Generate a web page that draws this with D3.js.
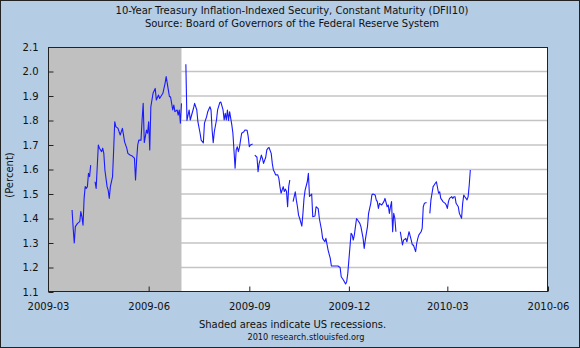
<!DOCTYPE html>
<html>
<head>
<meta charset="utf-8">
<script src="https://cdn.jsdelivr.net/npm/d3@7"></script>
<style>
  body { margin: 0; background: #fff; }
  svg { display: block; font-family: "DejaVu Sans", Verdana, sans-serif; }
</style>
</head>
<body>
<div class="container"></div>
<script>
// chart text
const titleLines = [
  "10-Year Treasury Inflation-Indexed Security, Constant Maturity (DFII10)",
  "Source: Board of Governors of the Federal Reserve System"
];
const footerLines = [
  "Shaded areas indicate US recessions.",
  "2010 research.stlouisfed.org"
];
const yLabel = "(Percent)";

// axes
const yTicks = [1.1, 1.2, 1.3, 1.4, 1.5, 1.6, 1.7, 1.8, 1.9, 2.0, 2.1];
const xTicks = ["2009-03-01", "2009-06-01", "2009-09-01", "2009-12-01", "2010-03-01", "2010-06-01"];
const xDomain = ["2009-03-01", "2010-06-01"];

// NBER recession (clipped to the chart window)
const recession = ["2009-03-01", "2009-07-01"];

// daily DFII10, percent (null = no observation, breaks the line)
const dfii10 = [
  ["2009-03-23",1.435],["2009-03-24",1.36],["2009-03-25",1.30],["2009-03-26",1.367],["2009-03-28",1.38],
  ["2009-03-30",1.387],["2009-03-31",1.428],
  ["2009-04-01",1.407],["2009-04-02",1.373],["2009-04-03",1.482],["2009-04-04",1.53],["2009-04-05",1.523],
  ["2009-04-06",1.53],["2009-04-07",1.584],["2009-04-08",1.571],["2009-04-09",1.618],["2009-04-10",null],
  ["2009-04-13",1.55],["2009-04-14",1.523],["2009-04-15",1.611],["2009-04-16",1.70],["2009-04-17",1.687],
  ["2009-04-19",1.673],["2009-04-20",1.687],["2009-04-21",1.666],["2009-04-22",1.598],["2009-04-24",1.53],
  ["2009-04-25",1.516],["2009-04-26",1.482],["2009-04-27",1.53],["2009-04-29",1.571],["2009-04-30",1.68],
  ["2009-05-01",1.795],["2009-05-02",1.775],["2009-05-04",1.768],["2009-05-05",1.754],["2009-05-06",1.741],
  ["2009-05-08",1.768],["2009-05-09",1.741],["2009-05-10",1.713],["2009-05-12",1.687],["2009-05-13",1.666],
  ["2009-05-15",1.659],["2009-05-17",1.655],["2009-05-19",1.646],["2009-05-20",1.557],["2009-05-21",1.639],
  ["2009-05-22",1.70],["2009-05-23",1.72],["2009-05-25",1.72],["2009-05-26",1.802],["2009-05-27",1.87],
  ["2009-05-28",1.71],["2009-05-30",1.761],["2009-05-31",1.748],
  ["2009-06-01",1.795],["2009-06-02",1.68],["2009-06-03",1.856],["2009-06-05",1.911],["2009-06-07",1.931],
  ["2009-06-08",1.884],["2009-06-10",1.904],["2009-06-11",1.89],["2009-06-13",1.904],["2009-06-14",1.911],
  ["2009-06-16",1.952],["2009-06-17",1.979],["2009-06-19",1.924],["2009-06-20",1.897],["2009-06-21",1.897],
  ["2009-06-22",1.87],["2009-06-23",1.843],["2009-06-24",1.863],["2009-06-25",1.836],["2009-06-27",1.843],
  ["2009-06-28",1.822],["2009-06-29",1.843],["2009-06-30",1.789],
  ["2009-07-01",1.87],["2009-07-03",null],["2009-07-05",2.03],["2009-07-06",1.80],["2009-07-08",1.843],
  ["2009-07-09",1.802],["2009-07-12",1.85],["2009-07-13",1.87],["2009-07-15",1.843],["2009-07-16",1.795],
  ["2009-07-18",1.748],["2009-07-19",1.72],["2009-07-21",1.709],["2009-07-22",1.789],["2009-07-24",1.816],
  ["2009-07-25",1.836],["2009-07-27",1.856],["2009-07-28",1.843],["2009-07-29",1.761],["2009-07-30",1.709],
  ["2009-07-31",1.754],
  ["2009-08-02",1.802],["2009-08-03",1.843],["2009-08-05",1.873],["2009-08-06",1.875],["2009-08-08",1.843],
  ["2009-08-09",1.802],["2009-08-10",1.829],["2009-08-11",1.802],["2009-08-12",1.843],["2009-08-13",1.80],
  ["2009-08-14",1.836],["2009-08-16",1.782],["2009-08-17",1.748],["2009-08-19",1.605],["2009-08-20",1.68],
  ["2009-08-21",1.693],["2009-08-22",1.673],["2009-08-23",1.69],["2009-08-24",1.72],["2009-08-25",1.748],
  ["2009-08-27",1.754],["2009-08-28",1.761],["2009-08-30",1.76],["2009-08-31",1.734],
  ["2009-09-01",1.693],["2009-09-02",1.70],["2009-09-04",1.704],["2009-09-05",null],["2009-09-06",1.659],
  ["2009-09-08",1.65],["2009-09-09",1.591],["2009-09-10",1.625],["2009-09-11",1.64],["2009-09-12",1.659],
  ["2009-09-13",1.645],["2009-09-14",1.625],["2009-09-16",1.65],["2009-09-17",1.68],["2009-09-18",1.687],
  ["2009-09-19",1.69],["2009-09-21",1.666],["2009-09-22",1.625],["2009-09-23",1.598],["2009-09-24",1.59],
  ["2009-09-25",1.578],["2009-09-27",1.578],["2009-09-28",1.564],["2009-09-29",1.53],["2009-09-30",1.503],
  ["2009-10-02",1.53],["2009-10-03",1.51],["2009-10-04",1.52],["2009-10-05",1.51],["2009-10-06",1.448],
  ["2009-10-07",1.53],["2009-10-08",1.557],["2009-10-10",null],["2009-10-11",1.469],["2009-10-13",1.509],
  ["2009-10-14",1.475],["2009-10-15",1.448],["2009-10-16",1.414],["2009-10-17",1.401],["2009-10-19",1.369],
  ["2009-10-20",1.42],["2009-10-21",1.482],["2009-10-22",1.516],["2009-10-24",1.55],["2009-10-25",1.584],
  ["2009-10-26",1.49],["2009-10-28",1.50],["2009-10-29",1.407],["2009-10-31",1.41],
  ["2009-11-01",1.448],["2009-11-03",1.44],["2009-11-04",1.40],["2009-11-06",1.353],["2009-11-07",1.319],
  ["2009-11-09",1.305],["2009-11-10",1.319],["2009-11-12",1.271],["2009-11-14",1.237],["2009-11-15",1.206],
  ["2009-11-18",1.206],["2009-11-21",1.206],["2009-11-23",1.20],["2009-11-24",1.162],["2009-11-26",1.149],
  ["2009-11-28",1.133],["2009-11-29",1.142],["2009-11-30",1.176],
  ["2009-12-02",1.285],["2009-12-03",1.34],["2009-12-04",1.333],["2009-12-05",1.312],["2009-12-06",1.333],
  ["2009-12-08",1.40],["2009-12-09",1.394],["2009-12-11",1.38],["2009-12-12",1.367],["2009-12-14",1.319],
  ["2009-12-15",1.278],["2009-12-16",1.312],["2009-12-17",1.34],["2009-12-18",1.367],["2009-12-19",1.421],
  ["2009-12-21",1.462],["2009-12-22",1.496],["2009-12-23",1.50],["2009-12-25",1.496],["2009-12-26",1.476],
  ["2009-12-27",1.469],["2009-12-28",1.441],["2009-12-29",1.462],["2009-12-31",1.455],
  ["2010-01-02",1.469],["2010-01-03",1.482],["2010-01-05",1.448],["2010-01-06",1.455],["2010-01-07",1.421],
  ["2010-01-08",1.448],["2010-01-09",1.469],["2010-01-10",1.346],["2010-01-11",1.421],["2010-01-12",1.401],
  ["2010-01-13",1.346],["2010-01-15",null],["2010-01-17",1.346],["2010-01-18",1.319],["2010-01-19",1.292],
  ["2010-01-20",1.312],["2010-01-22",1.319],["2010-01-23",1.305],["2010-01-24",1.326],["2010-01-25",1.346],
  ["2010-01-27",1.312],["2010-01-28",1.292],["2010-01-29",1.292],["2010-01-30",1.278],["2010-01-31",1.265],
  ["2010-02-01",1.299],["2010-02-02",1.319],["2010-02-03",1.333],["2010-02-05",1.346],["2010-02-06",1.36],
  ["2010-02-07",1.448],["2010-02-08",1.462],["2010-02-10",1.465],["2010-02-11",null],["2010-02-13",1.421],
  ["2010-02-14",1.476],["2010-02-16",1.53],["2010-02-17",1.537],["2010-02-18",1.544],["2010-02-19",1.55],
  ["2010-02-21",1.503],["2010-02-22",1.509],["2010-02-23",1.482],["2010-02-24",1.476],["2010-02-25",1.469],
  ["2010-02-27",1.462],["2010-02-28",1.455],
  ["2010-03-01",1.441],["2010-03-02",1.469],["2010-03-03",1.482],["2010-03-05",1.489],["2010-03-06",1.482],
  ["2010-03-07",1.489],["2010-03-08",1.489],["2010-03-09",1.462],["2010-03-10",1.455],["2010-03-11",1.448],
  ["2010-03-12",1.421],["2010-03-14",1.401],["2010-03-15",1.462],["2010-03-16",1.496],["2010-03-17",1.489],
  ["2010-03-19",1.476],["2010-03-20",1.489],["2010-03-21",1.537],["2010-03-22",1.598]
];

const parseDate = d3.timeParse("%Y-%m-%d");
const fmtMonth = d3.timeFormat("%Y-%m");

const W = 580, H = 348;
const plot = { left: 48, right: 548, top: 47, bottom: 292 };

const svg = d3.select("div.container").append("svg")
    .attr("width", W)
    .attr("height", H);

// light blue page with dark outline
svg.append("rect")
    .attr("x", 0.5).attr("y", 0.5)
    .attr("width", W - 1).attr("height", H - 1)
    .attr("fill", "#b4cce4")
    .attr("stroke", "#222");

const x = d3.scaleTime()
    .domain(xDomain.map(parseDate))
    .range([plot.left, plot.right]);

const y = d3.scaleLinear()
    .domain([yTicks[0], yTicks[yTicks.length - 1]])
    .range([plot.bottom, plot.top]);

// plot background
svg.append("rect")
    .attr("x", plot.left).attr("y", plot.top)
    .attr("width", plot.right - plot.left)
    .attr("height", plot.bottom - plot.top)
    .attr("fill", "#fff");

// horizontal grid
svg.append("g").selectAll("line")
    .data(yTicks.slice(1, -1))
    .join("line")
    .attr("x1", plot.left).attr("x2", plot.right)
    .attr("y1", d => y(d)).attr("y2", d => y(d))
    .attr("stroke", "#c4c4c4")
    .attr("stroke-width", 1.6);

// recession band sits over the grid
svg.append("rect")
    .attr("x", x(parseDate(recession[0])))
    .attr("y", plot.top)
    .attr("width", x(parseDate(recession[1])) - x(parseDate(recession[0])))
    .attr("height", plot.bottom - plot.top)
    .attr("fill", "#c0c0c0");

// series
const series = dfii10.map(([d, v]) => ({ date: parseDate(d), value: v }));
const line = d3.line()
    .defined(d => d.value !== null)
    .x(d => x(d.date))
    .y(d => y(d.value));

svg.append("path")
    .datum(series)
    .attr("fill", "none")
    .attr("stroke", "#1a1aff")
    .attr("stroke-width", 1.1)
    .attr("stroke-linejoin", "round")
    .attr("d", line);

// frame
svg.append("rect")
    .attr("x", plot.left + 0.5).attr("y", plot.top + 0.5)
    .attr("width", plot.right - plot.left - 1)
    .attr("height", plot.bottom - plot.top - 1)
    .attr("fill", "none")
    .attr("stroke", "#222");

// y axis, ticks pointing into the plot
const yAxis = d3.axisLeft(y)
    .tickValues(yTicks)
    .tickFormat(d3.format(".1f"))
    .tickSizeInner(-5)
    .tickSizeOuter(0)
    .tickPadding(10);

svg.append("g")
    .attr("transform", `translate(${plot.left + 0.5},0)`)
    .call(yAxis)
    .call(g => g.select(".domain").remove())
    .call(g => g.selectAll("line").attr("stroke", "#222"))
    .call(g => g.selectAll("text")
        .attr("fill", "#111")
        .style("font-size", "10px")
        .style("font-family", "DejaVu Sans, Verdana, sans-serif"));

// x axis, ticks pointing up
const xAxis = d3.axisBottom(x)
    .tickValues(xTicks.map(parseDate))
    .tickFormat(fmtMonth)
    .tickSizeInner(-5)
    .tickSizeOuter(0)
    .tickPadding(11);

svg.append("g")
    .attr("transform", `translate(0,${plot.bottom - 0.5})`)
    .call(xAxis)
    .call(g => g.select(".domain").remove())
    .call(g => g.selectAll("line").attr("stroke", "#222"))
    .call(g => g.selectAll("text")
        .attr("fill", "#111")
        .style("font-size", "10px")
        .style("font-family", "DejaVu Sans, Verdana, sans-serif"));

// y label
svg.append("text")
    .attr("transform", "translate(13,175) rotate(-90)")
    .attr("text-anchor", "middle")
    .attr("fill", "#111")
    .style("font-size", "10px")
    .text(yLabel);

// titles
svg.selectAll("text.title")
    .data(titleLines)
    .join("text")
    .attr("class", "title")
    .attr("x", 292)
    .attr("y", (d, i) => 13.5 + i * 13)
    .attr("text-anchor", "middle")
    .attr("fill", "#111")
    .style("font-size", "10px")
    .text(d => d);

// footer: the credit line is set a little smaller
svg.selectAll("text.footer")
    .data(footerLines)
    .join("text")
    .attr("class", "footer")
    .attr("x", (d, i) => i === 0 ? 292.5 : 306)
    .attr("y", (d, i) => 327.5 + i * 12)
    .attr("text-anchor", "middle")
    .attr("fill", "#111")
    .style("font-size", (d, i) => i === 0 ? "10px" : "8.2px")
    .text(d => d);
</script>
</body>
</html>
